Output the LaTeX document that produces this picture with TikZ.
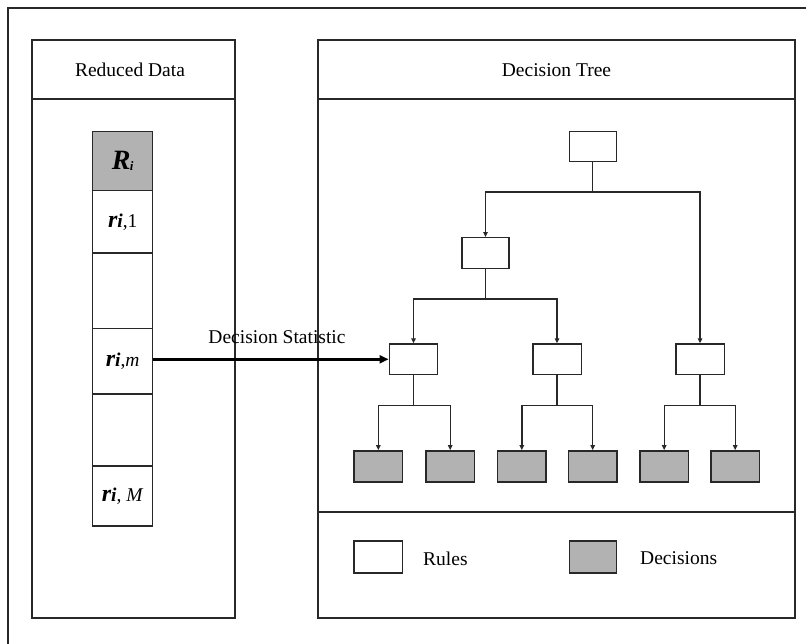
\documentclass[tikz,border=0pt]{standalone}
\usepackage{fontspec}
\setmainfont{Liberation Serif}
\usetikzlibrary{arrows.meta}
\definecolor{lc}{RGB}{40,40,40}
\definecolor{gfill}{RGB}{178,178,178}
\begin{document}
\begin{tikzpicture}[x=1pt,y=-1pt,
  ln/.style={draw=lc, line width=1.4pt},
  rulebox/.style={ln, fill=white, minimum width=47pt, minimum height=30.5pt, inner sep=0pt},
  leafbox/.style={ln, fill=gfill, minimum width=48.5pt, minimum height=31pt, inner sep=0pt},
  cellbox/.style={ln, minimum width=60pt, inner sep=0pt},
  arr/.style={ln, -{Triangle[length=5pt,width=4.5pt]}},
  bigarr/.style={draw=black, line width=2.4pt, -{Triangle[length=9pt,width=8pt]}},
  lbl/.style={font=\fontsize{19.5}{20}\selectfont, inner sep=0pt}
]
\useasboundingbox (0,0) rectangle (806,644);
\fill[white] (0,0) rectangle (806,644);

% outer frame
\draw[ln] (8,650) -- (8,8) -- (812,8);

% left panel
\draw[ln] (32,40) rectangle (235,618);
\draw[ln] (32,99) -- (235,99);
\node[lbl] (hl) at (130,70) {Reduced Data};

% right panel
\draw[ln] (318,40) rectangle (795,618);
\draw[ln] (318,99) -- (795,99);
\draw[ln] (318,512) -- (795,512);
\node[lbl] (hr) at (556.5,70) {Decision Tree};

% data column
\node[cellbox, fill=gfill, minimum height=58.8pt] (cR) at (122.7,161.1)
  {\fontsize{28}{28}\selectfont\bfseries\itshape R\kern-0.5pt\raisebox{-1pt}{\fontsize{13}{13}\selectfont i}};
\node[cellbox, minimum height=62.5pt] (c1) at (122.7,221.75)
  {{\fontsize{24}{24}\selectfont\bfseries\itshape r}{\fontsize{19.5}{20}\selectfont\bfseries\itshape i}{\fontsize{19.5}{20}\selectfont ,1}};
\node[cellbox, minimum height=75.3pt] (ce1) at (122.7,290.65) {};
\node[cellbox, minimum height=65.7pt] (cm) at (122.7,361.15)
  {{\fontsize{24}{24}\selectfont\bfseries\itshape r}{\fontsize{19.5}{20}\selectfont\bfseries\itshape i}{\fontsize{19.5}{20}\selectfont ,\textit{m}}};
\node[cellbox, minimum height=72pt] (ce2) at (122.7,430) {};
\node[cellbox, minimum height=60pt] (cM) at (122.7,496)
  {{\fontsize{24}{24}\selectfont\bfseries\itshape r}{\fontsize{19.5}{20}\selectfont\bfseries\itshape i}{\fontsize{19.5}{20}\selectfont , \textit{M}}};

% tree nodes
\node[rulebox] (root) at (592.7,146.5) {};
\node[rulebox] (n2) at (485.5,253) {};
\node[rulebox, minimum width=48.4pt] (A) at (413.5,359.3) {};
\node[rulebox, minimum width=48.4pt] (B) at (557,359.3) {};
\node[rulebox, minimum width=48.4pt] (C) at (700,359.3) {};
\node[leafbox] (L1) at (378.3,466.3) {};
\node[leafbox] (L2) at (450.2,466.3) {};
\node[leafbox] (L3) at (521.8,466.3) {};
\node[leafbox] (L4) at (592.7,466.3) {};
\node[leafbox] (L5) at (664.2,466.3) {};
\node[leafbox] (L6) at (735.2,466.3) {};

% tree edges
\draw[arr] (root.south) -- ++(0,29.5) -| (n2.north);
\draw[arr] (root.south) -- ++(0,29.5) -| (C.north);
\draw[arr] (n2.south) -- ++(0,30) -| (A.north);
\draw[arr] (n2.south) -- ++(0,30) -| (B.north);
\draw[arr] (A.south) -- ++(0,30) -| (L1.north);
\draw[arr] (A.south) -- ++(0,30) -| (L2.north);
\draw[arr] (B.south) -- ++(0,30) -| (L3.north);
\draw[arr] (B.south) -- ++(0,30) -| (L4.north);
\draw[arr] (C.south) -- ++(0,30) -| (L5.north);
\draw[arr] (C.south) -- ++(0,30) -| (L6.north);

% decision statistic
\node[lbl] (ds) at (277,337) {Decision Statistic};
\draw[bigarr] (cm.east |- A.west) -- (A.west);

% legend
\node[rulebox, minimum width=48.5pt, minimum height=31.7pt] (lr) at (378.3,557) {};
\node[lbl, anchor=west] (lrt) at (423,558.5) {Rules};
\node[leafbox, minimum width=47pt, minimum height=31.7pt] (ld) at (592.7,557) {};
\node[lbl, anchor=west] (ldt) at (640,558.5) {Decisions};
\end{tikzpicture}
\end{document}
